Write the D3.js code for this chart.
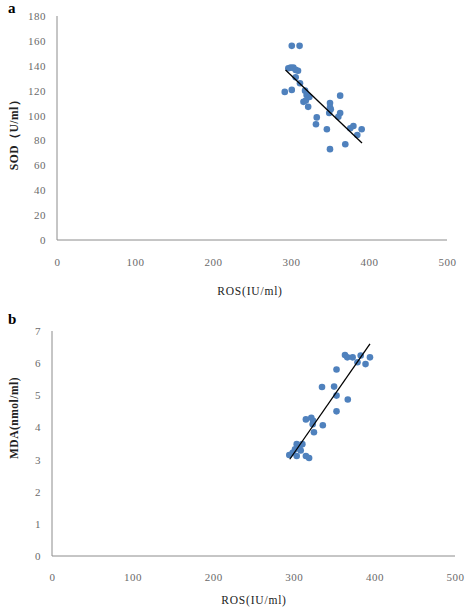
<!DOCTYPE html>
<html><head><meta charset="utf-8">
<script src="https://cdn.jsdelivr.net/npm/d3@7"></script>
<style>body{margin:0;background:#fff}svg{display:block}</style>
</head><body>
<svg id="c" width="472" height="614"></svg>
<script>
// Panel a: ROS vs SOD
const rosA = [301,311,296.6,299.6,303,306,309,306,311.5,292,301,318,320,323.5,316,319,322,363,350,350,351,349,363,360.7,333,332,346,380,376,390.6,385,369.6,350];
const sodA = [156,156,138,138.5,138.5,136.7,136,130.8,126,119,120.6,120,116.5,115,111,112,107,116,110,106.6,105,102,102,99,98.5,93,89,91.6,89.7,89,84.4,77,73];
const trendA = [[293,136.6],[391,78]];
// Panel b: ROS vs MDA
const rosB = [363.5,366.4,373,383,394.5,379,389,353,335,350,353,367,353,315,321.7,324,323.4,336,325,303.6,310.6,307,301.5,308.6,298.6,294.4,303.6,315,319];
const mdaB = [6.25,6.18,6.18,6.24,6.18,6.03,5.97,5.8,5.26,5.27,4.99,4.87,4.5,4.25,4.3,4.21,4.1,4.07,3.85,3.48,3.48,3.37,3.32,3.28,3.21,3.14,3.11,3.11,3.05];
const trendB = [[295,3.01],[394.5,6.6]];
const xTicks = [0,100,200,300,400,500];
const yTicksA = [0,20,40,60,80,100,120,140,160,180];
const yTicksB = [0,1,2,3,4,5,6,7];

const svg = d3.select("#c");
const FONT = "'Liberation Serif', 'DejaVu Serif', serif";

function panel(cfg){
  const g = svg.append("g");
  const x = d3.scaleLinear().domain([0,500]).range([cfg.x0, cfg.x1]);
  const y = d3.scaleLinear().domain([0,cfg.ymax]).range([cfg.y0, cfg.y1]);
  g.append("line").attr("x1",cfg.x0).attr("x2",cfg.x0).attr("y1",cfg.y0).attr("y2",cfg.y1).attr("stroke","#8c8c8c").attr("stroke-width",1);
  g.append("line").attr("x1",cfg.x0).attr("x2",cfg.x1).attr("y1",cfg.y0).attr("y2",cfg.y0).attr("stroke","#8c8c8c").attr("stroke-width",1);
  const yAxis = d3.axisLeft(y).tickValues(cfg.yTicks).tickFormat(d3.format("d")).tickSize(0).tickPadding(11);
  const ya = g.append("g").attr("transform",`translate(${cfg.x0},0)`).call(yAxis);
  ya.select(".domain").remove();
  ya.selectAll("text").attr("font-family",FONT).attr("font-size",11).attr("letter-spacing",0.5).attr("fill","#6a6a6a");
  const xAxis = d3.axisBottom(x).tickValues(xTicks).tickFormat(d3.format("d")).tickSize(0).tickPadding(cfg.xpad);
  const xa = g.append("g").attr("transform",`translate(0,${cfg.y0})`).call(xAxis);
  xa.select(".domain").remove();
  xa.selectAll("text").attr("font-family",FONT).attr("font-size",11).attr("letter-spacing",0.5).attr("fill","#6a6a6a");
  g.selectAll("circle.p").data(cfg.xs.map((v,i)=>[v,cfg.ys[i]])).enter().append("circle")
    .attr("cx",d=>x(d[0])).attr("cy",d=>y(d[1])).attr("r",3.3).attr("fill","#4f81bd");
  g.append("path").datum(cfg.trend).attr("d",d3.line().x(d=>x(d[0])).y(d=>y(d[1])))
    .attr("stroke","#000").attr("stroke-width",1.3).attr("fill","none");
  g.append("text").attr("x",cfg.xtx).attr("y",cfg.xty).attr("text-anchor","middle")
    .attr("font-family",FONT).attr("font-size",11.5).attr("letter-spacing",0.8).attr("fill","#222").text("ROS(IU/ml)");
  g.append("text").attr("transform",`translate(${cfg.ytx},${cfg.yty}) rotate(-90)`).attr("text-anchor","middle")
    .attr("font-family",FONT).attr("font-size",11.5).attr("font-weight","bold").attr("letter-spacing",0.5).attr("fill","#222").text(cfg.ylabel);
  g.append("text").attr("x",8).attr("y",cfg.ly).attr("font-family",FONT).attr("font-weight","bold")
    .attr("font-size",15).attr("fill","#000").text(cfg.letter);
}

panel({x0:57,x1:447,y0:240,y1:16,ymax:180,yTicks:yTicksA,xs:rosA,ys:sodA,trend:trendA,
  xpad:18,xtx:250,xty:295,ytx:18,yty:132,ylabel:"SOD（U/ml）",letter:"a",ly:13});
panel({x0:52,x1:455,y0:556,y1:331,ymax:7,yTicks:yTicksB,xs:rosB,ys:mdaB,trend:trendB,
  xpad:17,xtx:254,xty:604,ytx:18,yty:418,ylabel:"MDA(nmol/ml)",letter:"b",ly:324});
</script>
</body></html>
